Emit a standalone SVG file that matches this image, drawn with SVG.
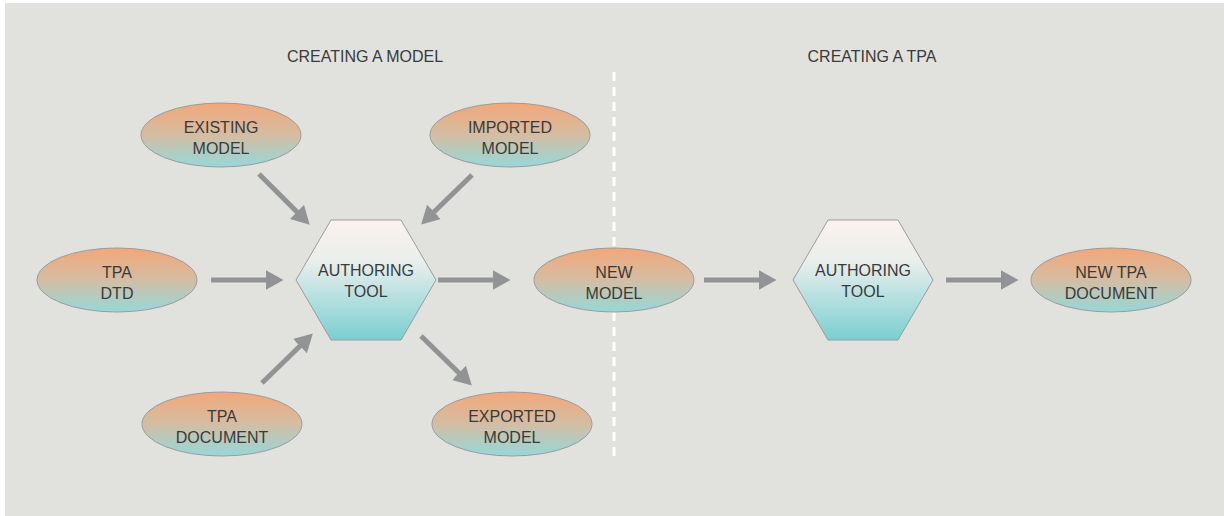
<svg xmlns="http://www.w3.org/2000/svg" width="1224" height="516" viewBox="0 0 1224 516">
  <defs>
    <linearGradient id="ovalFill" x1="0" y1="0" x2="0" y2="1">
      <stop offset="0" stop-color="#f3a779"/>
      <stop offset="0.5" stop-color="#d4bda3"/>
      <stop offset="1" stop-color="#96d8d9"/>
    </linearGradient>
    <linearGradient id="hexFill" x1="0" y1="0" x2="0" y2="1">
      <stop offset="0" stop-color="#fbf2ef"/>
      <stop offset="0.35" stop-color="#e9eeec"/>
      <stop offset="1" stop-color="#7acfd1"/>
    </linearGradient>
    <marker id="head" markerUnits="userSpaceOnUse" markerWidth="18" markerHeight="20" viewBox="0 0 18 20" refX="0.5" refY="10" orient="auto">
      <path d="M0,0 L18,10 L0,20 Z" fill="#929395"/>
    </marker>
    <style>
      .oval { fill: url(#ovalFill); stroke: #9b9c9c; stroke-width: 1; }
      .hex { fill: url(#hexFill); stroke: #9b9c9c; stroke-width: 1; }
      .label { font-family: "Liberation Sans", Arial, sans-serif; font-size: 16px; fill: #3a3a3a; text-anchor: middle; }
      .title { font-family: "Liberation Sans", Arial, sans-serif; font-size: 16px; fill: #3a3a3a; text-anchor: middle; }
      .arrow { stroke: #929395; stroke-width: 5; fill: none; marker-end: url(#head); }
      .divider { stroke: #ffffff; stroke-width: 3; stroke-dasharray: 9 6; fill: none; }
    </style>
  </defs>

  <!-- page -->
  <rect x="0" y="0" width="1224" height="516" fill="#ffffff"/>
  <rect x="5" y="3" width="1219" height="513" fill="#e1e2de"/>

  <!-- section headings and divider -->
  <text class="title" x="365" y="62">CREATING A MODEL</text>
  <text class="title" x="872" y="62">CREATING A TPA</text>
  <line class="divider" x1="614" y1="72" x2="614" y2="458"/>

  <!-- connectors -->
  <g id="connectors">
    <line class="arrow" x1="259" y1="174" x2="297.3" y2="212.3"/>
    <line class="arrow" x1="472" y1="175" x2="433.7" y2="212.3"/>
    <line class="arrow" x1="211" y1="280" x2="266" y2="280"/>
    <line class="arrow" x1="262" y1="383" x2="300.3" y2="345.7"/>
    <line class="arrow" x1="421" y1="336" x2="459.3" y2="373.3"/>
    <line class="arrow" x1="438" y1="280" x2="493" y2="280"/>
    <line class="arrow" x1="704" y1="280" x2="759" y2="280"/>
    <line class="arrow" x1="946" y1="280" x2="1001" y2="280"/>
  </g>

  <!-- nodes -->
  <g id="existing-model">
    <ellipse class="oval" cx="221" cy="135" rx="80" ry="32"/>
    <text class="label" x="221" y="133">EXISTING</text>
    <text class="label" x="221" y="154">MODEL</text>
  </g>
  <g id="imported-model">
    <ellipse class="oval" cx="510" cy="135" rx="80" ry="32"/>
    <text class="label" x="510" y="133">IMPORTED</text>
    <text class="label" x="510" y="154">MODEL</text>
  </g>
  <g id="tpa-dtd">
    <ellipse class="oval" cx="117" cy="280" rx="80" ry="32"/>
    <text class="label" x="117" y="278">TPA</text>
    <text class="label" x="117" y="299">DTD</text>
  </g>
  <g id="authoring-tool-1">
    <polygon class="hex" points="331,220 401,220 436,280 401,340 331,340 296,280"/>
    <text class="label" x="366" y="276">AUTHORING</text>
    <text class="label" x="366" y="297">TOOL</text>
  </g>
  <g id="tpa-document">
    <ellipse class="oval" cx="222" cy="424" rx="80" ry="32"/>
    <text class="label" x="222" y="422">TPA</text>
    <text class="label" x="222" y="443">DOCUMENT</text>
  </g>
  <g id="exported-model">
    <ellipse class="oval" cx="512" cy="424" rx="80" ry="32"/>
    <text class="label" x="512" y="422">EXPORTED</text>
    <text class="label" x="512" y="443">MODEL</text>
  </g>
  <g id="new-model">
    <ellipse class="oval" cx="614" cy="280" rx="80" ry="32"/>
    <text class="label" x="614" y="278">NEW</text>
    <text class="label" x="614" y="299">MODEL</text>
  </g>
  <g id="authoring-tool-2">
    <polygon class="hex" points="828,220 898,220 933,280 898,340 828,340 793,280"/>
    <text class="label" x="863" y="276">AUTHORING</text>
    <text class="label" x="863" y="297">TOOL</text>
  </g>
  <g id="new-tpa-document">
    <ellipse class="oval" cx="1111" cy="280" rx="80" ry="32"/>
    <text class="label" x="1111" y="278">NEW TPA</text>
    <text class="label" x="1111" y="299">DOCUMENT</text>
  </g>
</svg>
